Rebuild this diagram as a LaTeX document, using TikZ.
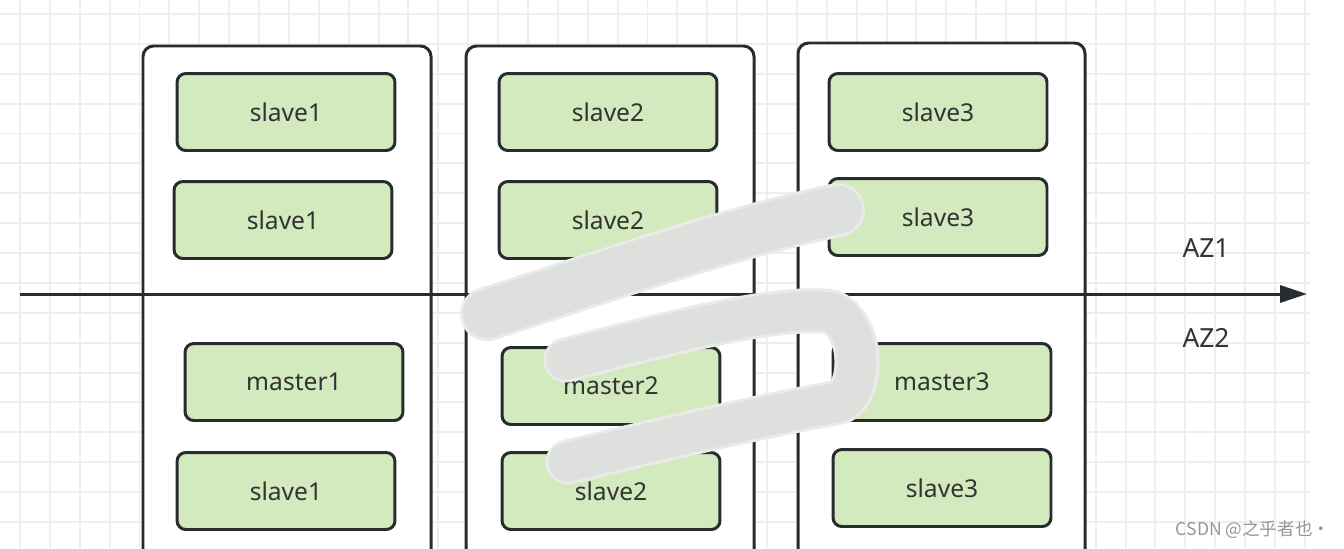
\documentclass[tikz,border=0pt]{standalone}
\usepackage{fontspec}
\setmainfont{Noto Sans}
\newfontfamily\cjkfont{Noto Sans CJK SC}
\definecolor{ZoneBorder}{RGB}{40,44,48}
\definecolor{NodeGreen}{RGB}{210,234,189}
\definecolor{LabelGray}{RGB}{51,51,51}
\definecolor{GridGray}{RGB}{238,238,238}
\definecolor{SmudgeGray}{RGB}{222,224,221}
\definecolor{SmudgeEdge}{RGB}{234,235,233}
\definecolor{MarkGray}{RGB}{150,150,150}
\usetikzlibrary{positioning, arrows.meta}

\begin{document}
\begin{tikzpicture}[
  x=0.02cm, y=-0.02cm,
  every node/.style={font=\fontsize{14}{16}\selectfont, text=LabelGray},
  gridline/.style={GridGray, line width=1.1pt},
  zone/.style={draw=ZoneBorder, line width=1.7pt, fill=white, rounded corners=6pt},
  inst/.style={rectangle, draw=ZoneBorder, line width=1.7pt, rounded corners=5pt, fill=NodeGreen, minimum width=4.36cm, minimum height=1.54cm, inner sep=0pt},
  axis/.style={-{Triangle[length=0.54cm, width=0.34cm]}, ZoneBorder, line width=1.7pt},
  azlabel/.style={font=\fontsize{15}{17}\selectfont},
  smudge/.style={line cap=round, line join=round}
]
\useasboundingbox (0,0) rectangle (1344,548);
\clip (0,0) rectangle (1344,548);

% background grid
\foreach \i in {0,...,43}
  \draw[gridline] ({20+29.88*\i},0) -- ({20+29.88*\i},548);
\foreach \j in {0,...,17}
  \draw[gridline] (0,{14+29.88*\j}) -- (1310,{14+29.88*\j});

% the three columns
\draw[zone] (143,46) rectangle (431,620);
\draw[zone] (466,46) rectangle (754,620);
\draw[zone] (798,43) rectangle (1085,620);

% zone boundary
\coordinate (axstart) at (20,294);
\coordinate (axend) at (1307,294);
\draw[axis] (axstart) -- (axend);
\node[azlabel] (az1) at (1206,248) {AZ1};
\node[azlabel] (az2) at (1206,338) {AZ2};

% column 1
\node[inst] (s1top) at (286,112) {slave1};
\node[inst] (s1mid) at (283,220) {slave1};
\node[inst] (m1) at (294,382) {master1};
\node[inst] (s1bot) at (286,491) {slave1};

% column 2
\node[inst] (s2top) at (608,112) {slave2};
\node[inst] (s2mid) at (608,220) {slave2};
\node[inst] (m2) at (611,386) {master2};
\node[inst] (s2bot) at (611,491) {slave2};

% column 3
\node[inst] (s3top) at (938,112) {slave3};
\node[inst] (s3mid) at (938,217) {slave3};
\node[inst] (m3) at (942,382) {master3};
\node[inst] (s3bot) at (942,488) {slave3};

% scribble over the middle
\foreach \w/\c in {1.08cm/SmudgeEdge, 0.96cm/SmudgeGray}
  \draw[smudge, line width=\w, \c] (487,314) .. controls (600,278) and (720,235) .. (838,210);
\foreach \w/\c in {0.9cm/SmudgeEdge, 0.78cm/SmudgeGray}
  \draw[smudge, line width=\w, \c] (566,360) .. controls (680,330) and (780,305) .. (832,312)
    .. controls (866,330) and (862,392) .. (840,402)
    .. controls (740,420) and (640,445) .. (568,462);

\node[font=\cjkfont\fontsize{10}{12}\selectfont, text=MarkGray] (mark) at (1253,530) {CSDN @之乎者也·};
\end{tikzpicture}
\end{document}
